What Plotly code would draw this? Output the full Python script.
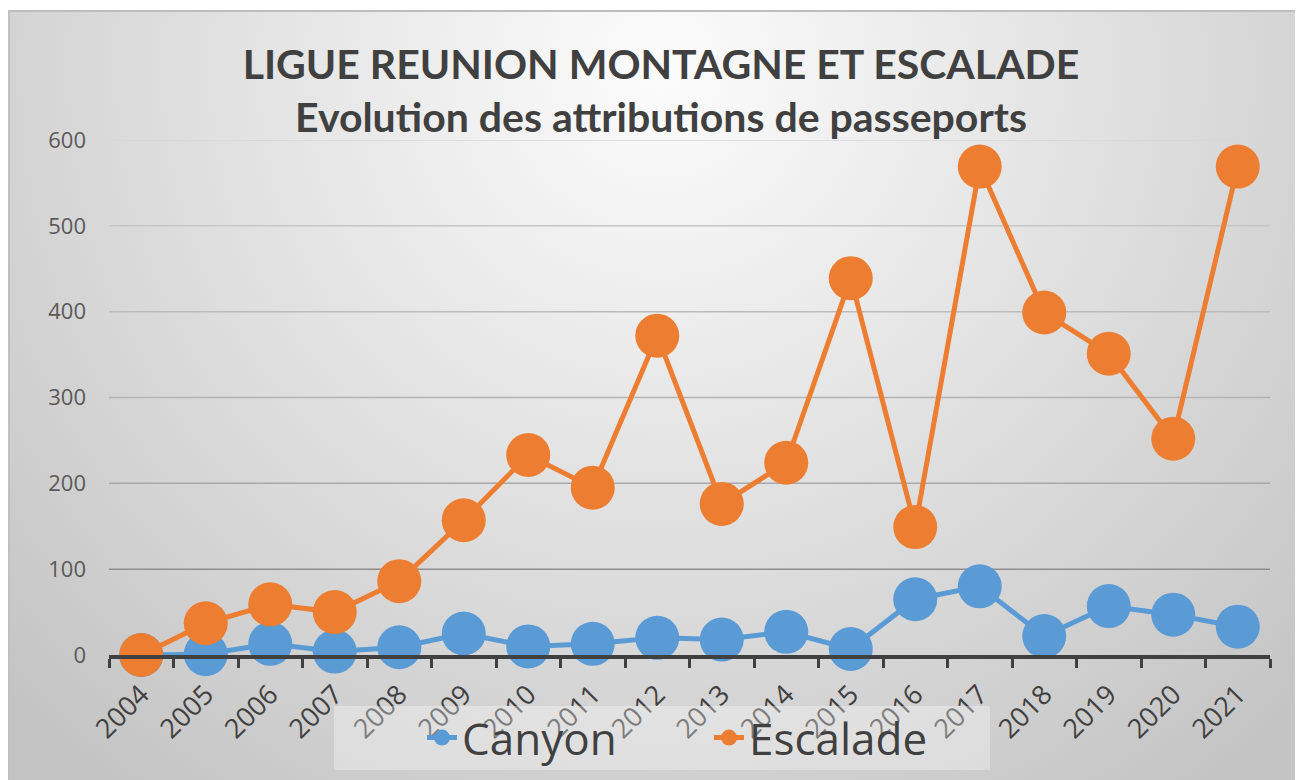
import base64
import plotly.graph_objects as go

# ---- data ----
years = ["2004", "2005", "2006", "2007", "2008", "2009", "2010", "2011", "2012",
         "2013", "2014", "2015", "2016", "2017", "2018", "2019", "2020", "2021"]
canyon = [0, 1, 13, 4, 9, 25, 10, 13, 20, 18, 27, 7, 65, 80, 22, 57, 47, 33]
escalade = [0, 37, 59, 50, 86, 157, 233, 195, 372, 176, 224, 439, 149, 569, 399, 351, 252, 569]
y_ticks = [0, 100, 200, 300, 400, 500, 600]
title_lines = ["LIGUE REUNION MONTAGNE ET ESCALADE", "Evolution des attributions de passeports"]

# ---- layout geometry (page pixels; the html body adds an 8px margin) ----
OFF = 8
PAGE_W, PAGE_H = 1303, 780
W, H = PAGE_W - OFF, PAGE_H - OFF
PLOT_L, PLOT_R, PLOT_T, PLOT_B = 109, 1270, 140, 655   # page px
L, R, T, B = PLOT_L - OFF, PAGE_W - PLOT_R, PLOT_T - OFF, PAGE_H - PLOT_B
pw, ph = W - L - R, H - T - B


def px_x(p):  # page pixel -> paper x
    return (p - PLOT_L) / pw


def px_y(p):  # page pixel -> paper y
    return (PLOT_B - p) / ph


BLUE = "#5B9BD5"
ORANGE = "#ED7D31"
TXT = "#404040"
TFONT = "Lato"
FONT = "Open Sans"

# radial gradient background (chart area) as SVG image
bx, by = 8, 10          # page px of chart frame
bw, bh = PAGE_W - bx, PAGE_H - by
svg = f"""<svg xmlns='http://www.w3.org/2000/svg' width='{bw}' height='{bh}' viewBox='0 0 {bw} {bh}' preserveAspectRatio='none'>
<defs><radialGradient id='g' gradientUnits='userSpaceOnUse' cx='652' cy='60' r='900'>
<stop offset='0' stop-color='#fcfcfc'/><stop offset='0.4' stop-color='#e6e6e6'/><stop offset='1' stop-color='#c4c4c4'/>
</radialGradient></defs>
<rect x='0' y='0' width='{bw}' height='{bh}' fill='url(#g)'/>
<line x1='0' y1='1' x2='{bw}' y2='1' stroke='#bdbdbd' stroke-width='2'/>
<line x1='1' y1='0' x2='1' y2='{bh}' stroke='#c0c0c0' stroke-width='2'/>
</svg>"""
src = "data:image/svg+xml;base64," + base64.b64encode(svg.encode()).decode()

fig = go.Figure()
for name, vals, col in [("Canyon", canyon, BLUE), ("Escalade", escalade, ORANGE)]:
    fig.add_trace(go.Scatter(
        x=years, y=vals, name=name, mode="lines+markers",
        line=dict(color=col, width=5),
        marker=dict(color=col, size=44),
        cliponaxis=False,
    ))

# gridlines shaded darker toward the bottom like the reference
grid_shades = {100: "#8e8e8e", 200: "#a8a8a8", 300: "#b4b4b4", 400: "#bcbcbc", 500: "#c6c6c6", 600: "#d6d6d6"}
for v in y_ticks[1:]:
    fig.add_shape(type="line", xref="paper", yref="y", x0=0, x1=1, y0=v, y1=v,
                  line=dict(color=grid_shades[v], width=1.5), layer="below")

# translucent legend panel (drawn above the tick labels)
fig.add_shape(type="rect", xref="paper", yref="paper",
              x0=px_x(334), x1=px_x(990), y0=px_y(770), y1=px_y(706),
              fillcolor="rgba(255,255,255,0.32)", line=dict(width=0), layer="above")

fig.update_layout(
    width=W, height=H,
    margin=dict(l=L, r=R, t=T, b=B, autoexpand=False),
    paper_bgcolor="white",
    plot_bgcolor="rgba(0,0,0,0)",
    images=[dict(source=src, xref="paper", yref="paper",
                 x=px_x(bx), y=px_y(by),
                 sizex=bw / pw, sizey=bh / ph,
                 xanchor="left", yanchor="top", sizing="stretch", layer="below")],
    title=dict(text="<b>" + title_lines[0] + "</b><br><b>" + title_lines[1] + "</b>",
               x=(661 - OFF) / W, xanchor="center", y=1 - 71 / H, yanchor="middle",
               font=dict(family=TFONT, size=41, color=TXT)),
    showlegend=True,
    legend=dict(orientation="h", xref="paper", yref="paper",
                x=px_x(422), xanchor="left", y=px_y(738), yanchor="middle",
                bgcolor="rgba(0,0,0,0)",
                font=dict(family=FONT, size=44, color=TXT),
                entrywidth=242, entrywidthmode="pixels"),
    xaxis=dict(type="category", range=[-0.5, len(years) - 0.5], automargin=False,
               tickson="boundaries", ticks="outside", ticklen=9,
               tickwidth=3, tickcolor=TXT, showline=True, linewidth=4, linecolor=TXT,
               showgrid=False, tickangle=-45, ticklabelstandoff=9,
               tickfont=dict(family=FONT, size=27, color=TXT)),
    yaxis=dict(range=[0, 600], tickvals=y_ticks, showgrid=False, zeroline=False,
               automargin=False, showline=False, ticks="", ticklabelstandoff=22,
               tickfont=dict(family=FONT, size=22, color="#595959")),
)

fig.write_html("out.html")
